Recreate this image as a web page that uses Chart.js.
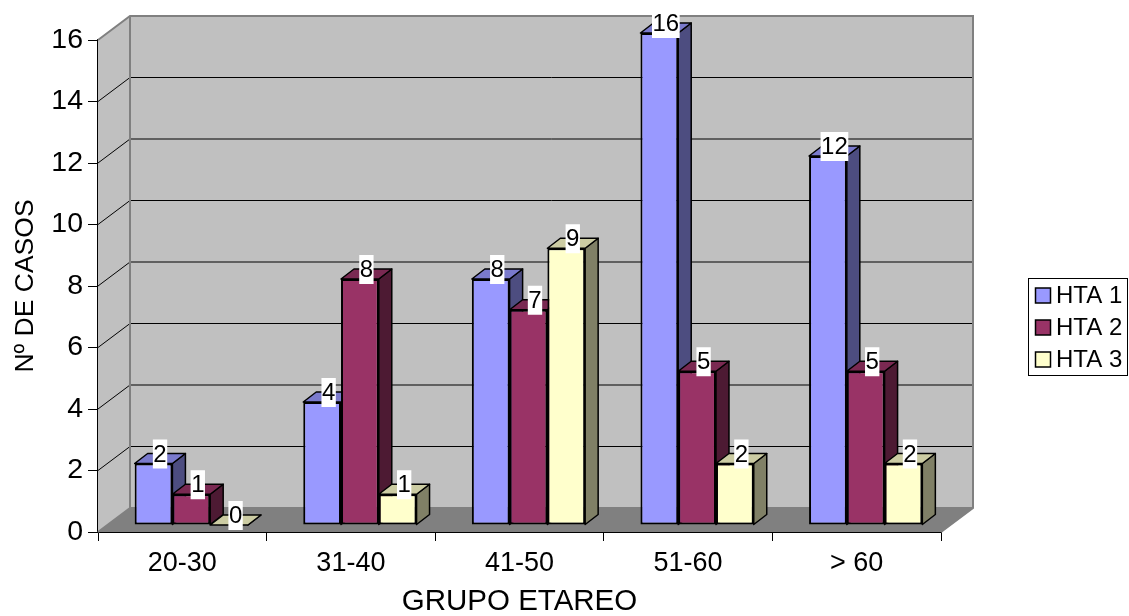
<!DOCTYPE html>
<html>
<head>
<meta charset="utf-8">
<title>HTA por grupo etareo</title>
<script src="https://cdn.jsdelivr.net/npm/chart.js@4/dist/chart.umd.min.js"></script>
<style>
  html, body { margin:0; padding:0; background:#fff; }
  #wrap { width:1129px; height:616px; }
  canvas { display:block; }
</style>
</head>
<body>
<div id="wrap"><canvas id="grafico"></canvas></div>
<script>
const grupos = ["20-30","31-40","41-50","51-60","> 60"];
const hta1 = [2,4,8,16,12];
const hta2 = [1,8,7,5,5];
const hta3 = [0,1,9,2,2];

const FONT = "'Liberation Sans', Arial, sans-serif";
// offset of the back wall and of the bars inside the 3D box
const WALL = { dx:32, dy:-24 };
const BAR = { dx:9, dy:-7, depthX:13, depthY:-10 };
const colores = [
  { front:"#9999ff", top:"#7a7acc", side:"#4d4d80" },
  { front:"#993366", top:"#7a2952", side:"#4d1a33" },
  { front:"#ffffcc", top:"#cccca3", side:"#808066" }
];

function poly(ctx, pts, fill, stroke, lw) {
  ctx.beginPath();
  pts.forEach((p,i) => i ? ctx.lineTo(p[0],p[1]) : ctx.moveTo(p[0],p[1]));
  ctx.closePath();
  if (fill) { ctx.fillStyle = fill; ctx.fill(); }
  if (stroke) { ctx.strokeStyle = stroke; ctx.lineWidth = lw; ctx.stroke(); }
}

const caja3d = {
  id:"caja3d",
  beforeDatasetsDraw(chart) {
    const { ctx, chartArea:a, scales:{y} } = chart;
    const wx = WALL.dx, wy = WALL.dy;
    ctx.save();
    // side wall, back wall, floor
    poly(ctx, [[a.left,a.top],[a.left+wx,a.top+wy],[a.left+wx,a.bottom+wy],[a.left,a.bottom]], "#c0c0c0");
    poly(ctx, [[a.left+wx,a.top+wy],[a.right+wx,a.top+wy],[a.right+wx,a.bottom+wy],[a.left+wx,a.bottom+wy]], "#c0c0c0");
    poly(ctx, [[a.left,a.bottom],[a.left+wx,a.bottom+wy],[a.right+wx,a.bottom+wy],[a.right,a.bottom]], "#808080");
    // gridlines run over the side wall and along the back
    y.ticks.forEach(t => {
      const py = y.getPixelForValue(t.value);
      if (t.value === 0 || t.value === y.max) return;
      ctx.beginPath();
      ctx.moveTo(a.left,py);
      ctx.lineTo(a.left+wx,py+wy);
      ctx.lineTo(a.right+wx,py+wy);
      ctx.strokeStyle = "#000";
      ctx.lineWidth = 1;
      ctx.stroke();
    });
    // gray wall outlines
    ctx.beginPath();
    ctx.moveTo(a.left,a.top);
    ctx.lineTo(a.left+wx,a.top+wy);
    ctx.lineTo(a.right+wx,a.top+wy);
    ctx.lineTo(a.right+wx,a.bottom+wy);
    ctx.lineTo(a.right,a.bottom);
    ctx.moveTo(a.left+wx,a.top+wy);
    ctx.lineTo(a.left+wx,a.bottom+wy);
    ctx.lineTo(a.left,a.bottom);
    ctx.moveTo(a.left+wx,a.bottom+wy);
    ctx.lineTo(a.right+wx,a.bottom+wy);
    ctx.strokeStyle = "#808080";
    ctx.lineWidth = 2;
    ctx.stroke();
    // bar tops and sides, series by series, fronts come after
    ctx.lineJoin = "round";
    chart.data.datasets.forEach((ds,i) => {
      chart.getDatasetMeta(i).data.forEach(b => {
        const l = b.x - b.width/2 + BAR.dx, r = b.x + b.width/2 + BAR.dx;
        const t = b.y + BAR.dy, bo = b.base + BAR.dy;
        const ox = BAR.depthX, oy = BAR.depthY;
        poly(ctx, [[r,t],[r+ox,t+oy],[r+ox,bo+oy],[r,bo]], colores[i].side, "#000", 1.5);
        poly(ctx, [[l,t],[l+ox,t+oy],[r+ox,t+oy],[r,t]], colores[i].top, "#000", 1.5);
      });
    });
    ctx.restore();
    ctx.save();
    ctx.translate(BAR.dx, BAR.dy);
  },
  afterDatasetsDraw(chart) {
    const { ctx } = chart;
    ctx.restore();
    ctx.save();
    // value labels with white box
    ctx.font = "24px " + FONT;
    ctx.textAlign = "center";
    ctx.textBaseline = "middle";
    chart.data.datasets.forEach((ds,i) => {
      chart.getDatasetMeta(i).data.forEach((b,j) => {
        const txt = String(ds.data[j]);
        const cx = b.x + BAR.dx + 6.5, cy = b.y + BAR.dy - 9.5;
        const w = ctx.measureText(txt).width + 1;
        ctx.fillStyle = "#fff";
        ctx.fillRect(cx - w/2, cy - 14.5, w, 29);
        ctx.fillStyle = "#000";
        ctx.fillText(txt, cx, cy + 1);
      });
    });
    ctx.restore();
  },
  afterDraw(chart) {
    // legend box on the right side
    const { ctx } = chart;
    ctx.save();
    ctx.strokeStyle = "#000";
    ctx.lineWidth = 1;
    ctx.strokeRect(1028.5, 278.5, 99, 97);
    ctx.font = "24px " + FONT;
    ctx.textAlign = "left";
    ctx.textBaseline = "middle";
    chart.data.datasets.forEach((ds,i) => {
      const cy = 295.5 + i*32;
      ctx.fillStyle = colores[i].front;
      ctx.fillRect(1035.5, cy-7.5, 15, 15);
      ctx.strokeStyle = "#000";
      ctx.lineWidth = 1.5;
      ctx.strokeRect(1035.5, cy-7.5, 15, 15);
      ctx.fillStyle = "#000";
      ctx.fillText(ds.label, 1056, cy+1);
    });
    ctx.restore();
  }
};

const barra = i => ({
  backgroundColor: colores[i].front,
  borderColor: "#000",
  borderWidth: 2,
  borderSkipped: false,
  categoryPercentage: 0.672,
  barPercentage: 1,
  clip: false
});

new Chart(document.getElementById("grafico"), {
  type: "bar",
  data: {
    labels: grupos,
    datasets: [
      { label:"HTA 1", data:hta1, ...barra(0) },
      { label:"HTA 2", data:hta2, ...barra(1) },
      { label:"HTA 3", data:hta3, ...barra(2) }
    ]
  },
  plugins: [caja3d],
  options: {
    responsive: true,
    maintainAspectRatio: false,
    animation: false,
    layout: { padding: { top:40, right:188, bottom:0, left:0 } },
    scales: {
      x: {
        afterFit: s => { s.height = 84; },
        grid: { drawOnChartArea:false, color:"#000", lineWidth:1, tickLength:9 },
        border: { color:"#000", width:2 },
        ticks: { color:"#000", font:{ family:FONT, size:27 }, padding:6, maxRotation:0 },
        title: { display:true, text:"GRUPO ETAREO", color:"#000", font:{ family:FONT, size:29.5 }, padding:{ top:4, bottom:-4 } }
      },
      y: {
        min: 0, max: 16,
        afterFit: s => { s.width = 98; },
        grid: { drawOnChartArea:false, color:"#000", lineWidth:1, tickLength:10 },
        border: { color:"#000", width:2 },
        ticks: { stepSize:2, color:"#000", font:{ family:FONT, size:28.5 }, padding:5 },
        title: { display:true, text:"Nº DE CASOS", color:"#000", font:{ family:FONT, size:26.5 }, padding:{ top:10, bottom:0 } }
      }
    },
    plugins: { legend:{ display:false }, tooltip:{ enabled:false } }
  }
});
</script>
</body>
</html>
